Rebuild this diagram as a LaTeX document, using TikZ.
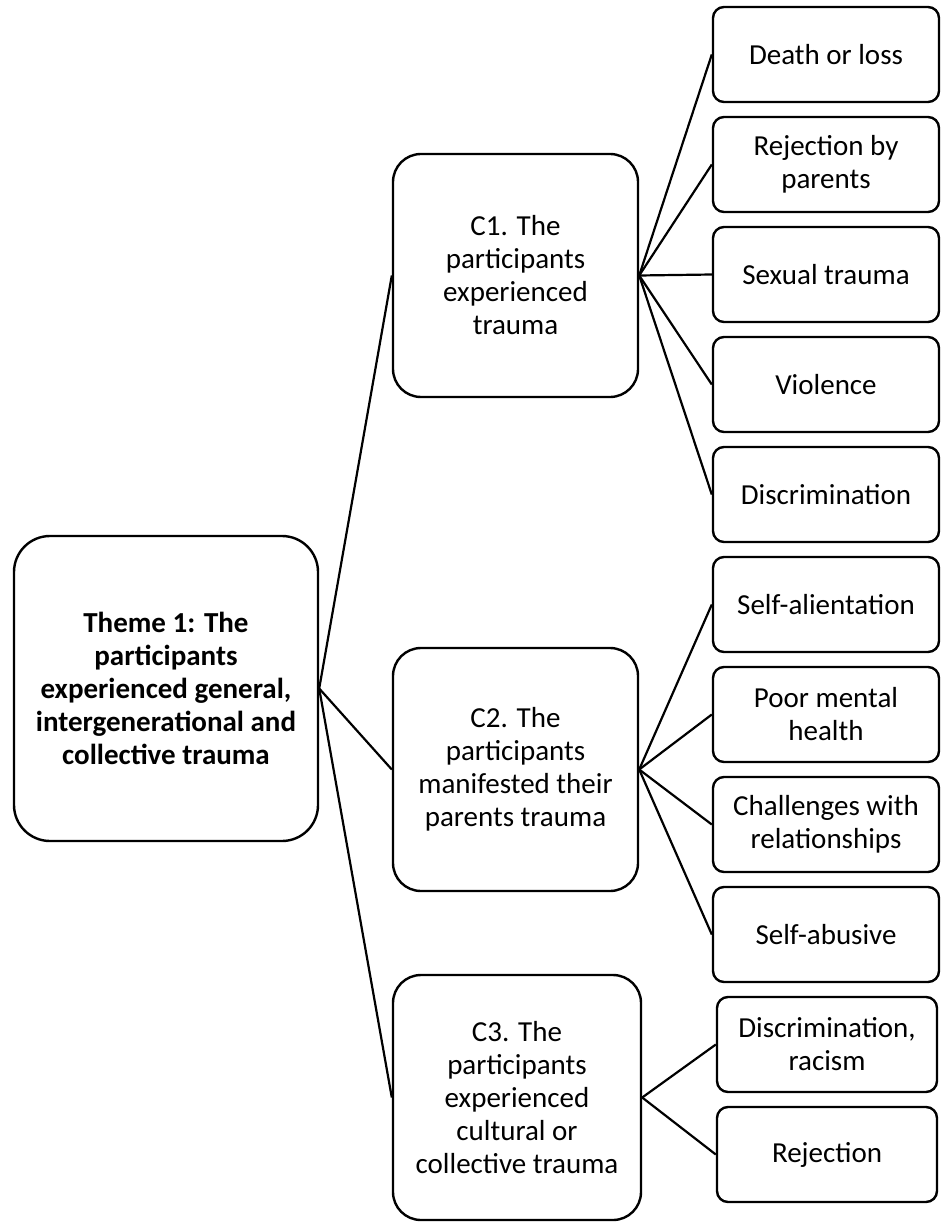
\documentclass[tikz,border=0pt]{standalone}
\usepackage{fontspec}
\setmainfont{Carlito}
\begin{document}
\begin{tikzpicture}[x=1pt,y=-1pt,
  every node/.style={font=\fontsize{29}{33}\selectfont, align=center, inner sep=0pt},
  bx/.style={draw, line width=2.4pt, rectangle},
  themebox/.style={bx, rounded corners=36pt, minimum width=304pt, minimum height=305pt},
  catbox/.style={bx, rounded corners=28pt, minimum width=245pt, minimum height=243pt},
  subbox/.style={bx, rounded corners=11pt, minimum width=226pt, minimum height=95pt},
  subboxb/.style={bx, rounded corners=11pt, minimum width=220pt, minimum height=95pt},
  link/.style={line width=2.2pt}]
\useasboundingbox (0,0) rectangle (940,1222);
\node[themebox, font=\fontsize{29}{33}\selectfont\bfseries] (theme) at (166,688.5) {Theme 1: The\\participants\\experienced general,\\intergenerational and\\collective trauma};
\node[catbox] (c1) at (515.5,275.5) {C1. The\\participants\\experienced\\trauma};
\node[catbox] (c2) at (515.5,769.5) {C2. The\\participants\\manifested their\\parents trauma};
\node[catbox, minimum width=248pt, minimum height=245pt] (c3) at (517,1097.5) {C3. The\\participants\\experienced\\cultural or\\collective trauma};
\node[subbox] (s1) at (826,54.5) {Death or loss};
\node[subbox] (s2) at (826,164.5) {Rejection by\\parents};
\node[subbox] (s3) at (826,274.5) {Sexual trauma};
\node[subbox] (s4) at (826,384.5) {Violence};
\node[subbox] (s5) at (826,494.5) {Discrimination};
\node[subbox] (s6) at (826,604.5) {Self-alientation};
\node[subbox] (s7) at (826,714.5) {Poor mental\\health};
\node[subbox] (s8) at (826,824.5) {Challenges with\\relationships};
\node[subbox] (s9) at (826,934.5) {Self-abusive};
\node[subboxb] (s10) at (827,1044.5) {Discrimination,\\racism};
\node[subboxb] (s11) at (827,1154.5) {Rejection};
\foreach \c in {c1,c2,c3} \draw[link] (theme.east) -- (\c.west);
\foreach \s in {s1,s2,s3,s4,s5} \draw[link] (c1.east) -- (\s.west);
\foreach \s in {s6,s7,s8,s9} \draw[link] (c2.east) -- (\s.west);
\foreach \s in {s10,s11} \draw[link] (c3.east) -- (\s.west);
\end{tikzpicture}
\end{document}
